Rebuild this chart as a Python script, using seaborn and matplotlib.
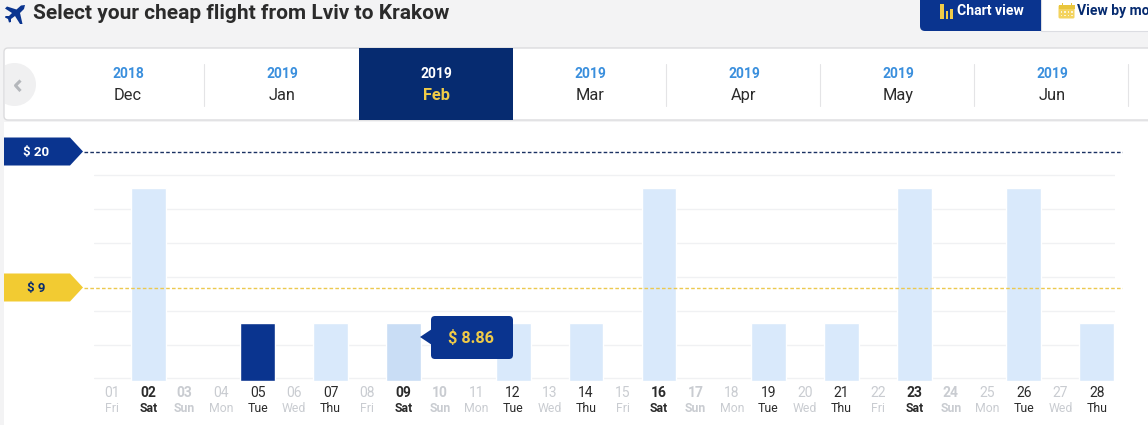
import numpy as np
import pandas as pd
import matplotlib
matplotlib.use("Agg")
import matplotlib.pyplot as plt
from matplotlib.patches import FancyBboxPatch, Polygon, Rectangle, Circle
import seaborn as sns

days = ["01", "02", "03", "04", "05", "06", "07", "08", "09", "10", "11", "12", "13", "14",
        "15", "16", "17", "18", "19", "20", "21", "22", "23", "24", "25", "26", "27", "28"]
weekdays = ["Fri", "Sat", "Sun", "Mon", "Tue", "Wed", "Thu"] * 4
prices = [np.nan, 29.6, np.nan, np.nan, 8.86, np.nan, 8.86, np.nan, 8.86, np.nan, np.nan, 8.86, np.nan, 8.86,
          np.nan, 29.6, np.nan, np.nan, 8.86, np.nan, 8.86, np.nan, 29.6, np.nan, np.nan, 29.6, np.nan, 8.86]
states = ["normal"] * 28
states[4] = "selected"
states[8] = "hover"
grid_values = [0.46, 5.6, 10.8, 16.0, 21.1, 26.3, 31.45]
price_lines = [20, 9]
price_labels = ["$ 20", "$ 9"]
price_colors = ["#0a348f", "#f2cb32"]
line_colors = ["#1b3263", "#ecc94f"]
tooltip_label = "$ 8.86"

month_years = ["2018", "2019", "2019", "2019", "2019", "2019", "2019"]
month_names = ["Dec", "Jan", "Feb", "Mar", "Apr", "May", "Jun"]
title = "Select your cheap flight from Lviv to Krakow"

W, H = 1148, 425
NAVY = "#0a348f"
DEEP = "#062b70"
YELLOW = "#f0cb48"
DARK = "#2b2b2b"
GREY = "#c9ccd1"

sns.set_theme(style="white")
plt.rcParams["font.family"] = ["Roboto", "DejaVu Sans"]

fig = plt.figure(figsize=(W / 100, H / 100), dpi=100, facecolor="#f3f3f4")


def px_axes(left, top, right, bottom, zorder):
    a = fig.add_axes([left / W, 1 - bottom / H, (right - left) / W, (bottom - top) / H], zorder=zorder)
    a.patch.set_alpha(0)
    return a


def ui_axes(zorder):
    a = px_axes(0, 0, W, H, zorder)
    a.set_xlim(0, W)
    a.set_ylim(H, 0)
    a.axis("off")
    return a


bg = ui_axes(0)
fg = ui_axes(5)

# page header, plane icon
bg.add_patch(Polygon([(25, 5), (24, 9), (20, 13), (22.5, 24), (20, 24), (15, 16), (11, 19), (11, 22), (9, 22.5),
                      (8, 19), (5, 17.5), (5.5, 16), (9, 16), (12, 13), (5, 8.5), (7, 6.5), (16.5, 9.5), (21, 5.5)],
                     fc=NAVY, ec="none"))
bg.text(33, 13, title, fontsize=15, fontweight="bold", color=DARK, va="center")

# tabs
bg.add_patch(Rectangle((1041, -2), 110, 32.5, fc="white", ec="#dcdde2", lw=0.8))
bg.add_patch(FancyBboxPatch((920, -10), 121, 41, boxstyle="round,pad=0,rounding_size=5", fc=NAVY, ec="none"))
bg.add_patch(Rectangle((1030, 0), 11, 31, fc=NAVY, ec="none"))
for x, w, top in [(940, 4, 4), (945.5, 2.5, 11), (949.5, 3.8, 8.5)]:
    bg.add_patch(Rectangle((x, top), w, 18.5 - top, fc=YELLOW, ec="none"))
bg.text(957, 11, "Chart view", fontsize=10.1, fontweight="bold", color="white", va="center")
bg.add_patch(FancyBboxPatch((1058.5, 5), 16, 13.5, boxstyle="round,pad=0,rounding_size=1.5", fc="#f3d35f", ec="none"))
bg.add_patch(Rectangle((1058.5, 5), 16, 3.5, fc="#e9c53c", ec="none"))
for dx in (1061.5, 1065, 1068.5, 1072):
    for dy in (11, 14.5):
        bg.add_patch(Rectangle((dx - 1, dy), 1.6, 1.6, fc="white", alpha=0.75, ec="none"))
for dx in (1062, 1070.5):
    bg.add_patch(Rectangle((dx, 3), 1.2, 3.5, fc="#e9c53c", ec="none"))
bg.text(1077, 11, "View by mo", fontsize=10.1, fontweight="bold", color=DEEP, va="center")

# month strip
bg.add_patch(FancyBboxPatch((4, 48), W + 20, 72, boxstyle="round,pad=0,rounding_size=4", fc="white", ec="#dcdcde", lw=1))
bg.add_patch(Rectangle((4, 122), W - 4, H - 122, fc="white", ec="none"))
back = Circle((14.5, 84.5), 21.5, fc="#f0f0f1", ec="none")
bg.add_patch(back)
back.set_clip_path(Rectangle((4.5, 48), 60, 72, transform=bg.transData))
bg.plot([20.5, 15.5, 20.5], [80.5, 85.5, 91], color="#b4b7bb", lw=2.2, solid_capstyle="butt")
bg.add_patch(Rectangle((359, 48), 154, 72, fc=DEEP, ec="none"))
for i in range(7):
    xc = 128 + 154 * i
    selected = month_names[i] == "Feb"
    bg.text(xc, 74, month_years[i], fontsize=10, fontweight="bold", ha="center", va="center",
            color="white" if selected else "#3a8fdd")
    bg.text(xc, 95, month_names[i], fontsize=11.8, fontweight="bold" if selected else "normal", ha="center", va="center",
            color=YELLOW if selected else DARK)
    if i != 1 and i != 2:
        bg.plot([xc + 76, xc + 76], [64, 106], color="#e4e4e6", lw=0.8)

# bars
df = pd.DataFrame({"day": days, "price": prices, "state": states})
ax = px_axes(93.5, 169.4, 1115.1, 381.4, 1)
sns.barplot(data=df, x="day", y="price", hue="state", order=days, dodge=False, width=0.955, legend=False,
            hue_order=["normal", "selected", "hover"],
            palette={"normal": "#d9e9fb", "selected": NAVY, "hover": "#c9ddf5"}, saturation=1, ax=ax, zorder=3)
ax.set_ylim(0, 212 / 6.55)
ax.set_yticks(grid_values)
ax.set_yticklabels([])
ax.grid(axis="y", color="#f0f1f3", lw=1)
ax.set_axisbelow(True)
ax.set_xlabel("")
ax.set_ylabel("")
ax.tick_params(axis="both", length=0)
sns.despine(ax=ax, left=True, bottom=True)

# day and weekday labels
ax.set_xticks(range(len(days)))
ax.set_xticklabels(days, fontsize=10)
ax.tick_params(axis="x", pad=3.5)
wd_trans = ax.get_xaxis_transform()
for i, (tick, wd) in enumerate(zip(ax.get_xticklabels(), weekdays)):
    weight = "bold" if wd in ("Sat", "Sun") else "normal"
    color = GREY if wd in ("Fri", "Sun", "Mon", "Wed") else DARK
    tick.set_fontweight(weight)
    tick.set_color(color)
    ax.text(i, -27 / 212, wd, transform=wd_trans, fontsize=8.8, fontweight=weight, color=color,
            ha="center", va="center", clip_on=False)

# reference prices
pax = px_axes(84, 140, 1123, 300, 4)
pax.set_xlim(0, 1)
pax.set_ylim(9 - 12 / 12.36, 20 + 12 / 12.36)
pax.axis("off")
for value, color in zip(price_lines, line_colors):
    pax.axhline(value, color=color, lw=1, dashes=(2.6, 1.6))

for value, label, color in zip(price_lines, price_labels, price_colors):
    yc = H - pax.transData.transform((0, value))[1]
    fg.add_patch(Polygon([(4, yc - 14.5), (70, yc - 14.5), (83, yc - 0.5), (70, yc + 13.5), (4, yc + 13.5)], fc=color, ec="none"))
    fg.text(36, yc + 0.5, label, fontsize=9.5, fontweight="bold", ha="center", va="center",
            color="white" if value == 20 else DEEP)

# tooltip
fg.add_patch(Polygon([(420, 337), (432, 329), (432, 345)], fc=NAVY, ec="none"))
fg.add_patch(FancyBboxPatch((431, 316), 82, 43, boxstyle="round,pad=0,rounding_size=4", fc=NAVY, ec="none"))
fg.text(471.5, 338, tooltip_label, fontsize=11.7, fontweight="bold", color=YELLOW, ha="center", va="center")

fig.savefig("out.png", dpi=100, facecolor=fig.get_facecolor())
